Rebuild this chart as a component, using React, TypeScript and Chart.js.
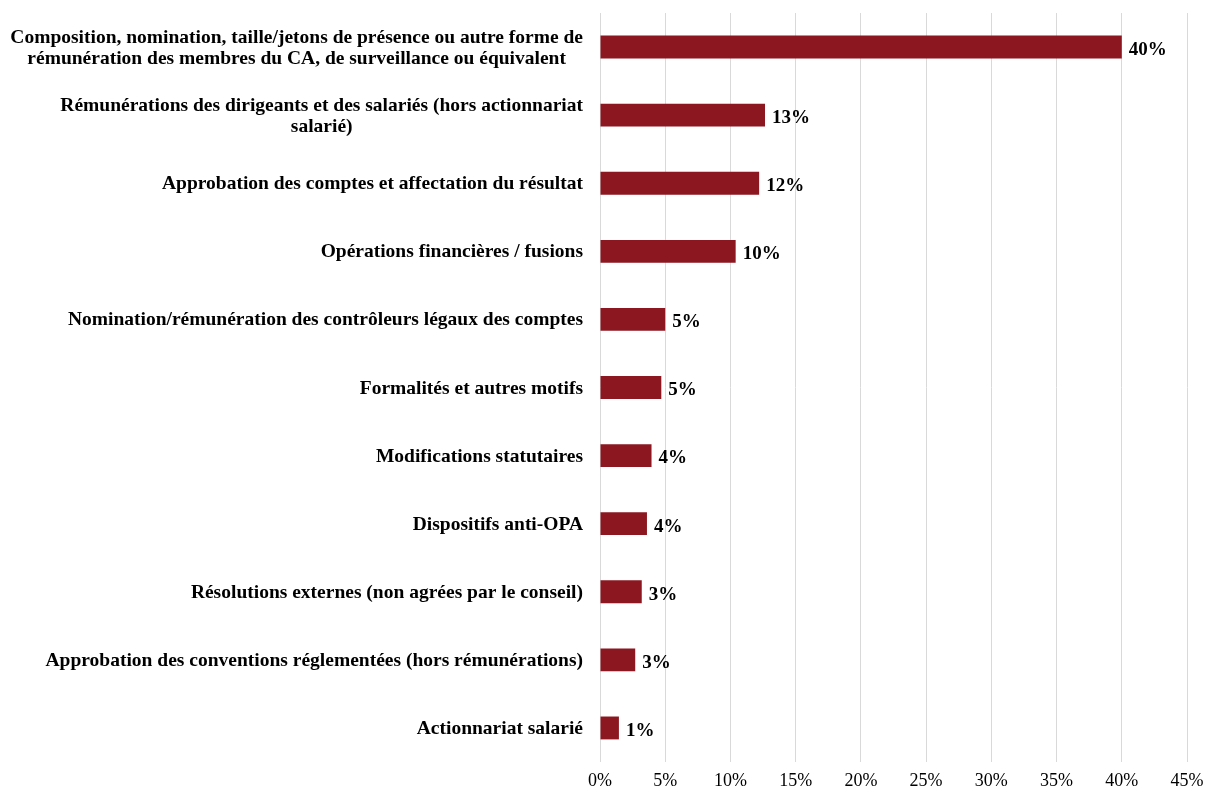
import React, { useEffect, useRef } from "react";
import { Chart, registerables } from "chart.js";

Chart.register(...registerables);

const categories: string[][] = [
  ["Composition, nomination, taille/jetons de présence ou autre forme de", "rémunération des membres du CA, de surveillance ou équivalent"],
  ["Rémunérations des dirigeants et des salariés (hors actionnariat", "salarié)"],
  ["Approbation des comptes et affectation du résultat"],
  ["Opérations financières / fusions"],
  ["Nomination/rémunération des contrôleurs légaux des comptes"],
  ["Formalités et autres motifs"],
  ["Modifications statutaires"],
  ["Dispositifs anti-OPA"],
  ["Résolutions externes (non agrées par le conseil)"],
  ["Approbation des conventions réglementées (hors rémunérations)"],
  ["Actionnariat salarié"],
];

const values: number[] = [40, 12.65, 12.2, 10.4, 5.0, 4.7, 3.95, 3.6, 3.2, 2.7, 1.45];
const valueLabels: string[] = ["40%", "13%", "12%", "10%", "5%", "5%", "4%", "4%", "3%", "3%", "1%"];
const xTicks: number[] = [0, 5, 10, 15, 20, 25, 30, 35, 40, 45];

const FONT = "'Liberation Serif', 'Times New Roman', serif";
const BAR_COLOR = "#8C1720";

const labelPlugin = {
  id: "customLabels",
  afterDraw(chart: any) {
    const ctx = chart.ctx;
    const yScale = chart.scales.y;
    const xScale = chart.scales.x;
    const area = chart.chartArea;
    ctx.save();
    ctx.font = `bold 19.5px ${FONT}`;
    ctx.fillStyle = "#000";
    ctx.textBaseline = "middle";
    ctx.textAlign = "center";
    const lh = 21;
    const rightEdge = area.left - 17;
    categories.forEach((lines, i) => {
      const cy = yScale.getPixelForValue(i) + 1;
      const maxW = Math.max(...lines.map((l) => ctx.measureText(l).width));
      const cx = rightEdge - maxW / 2;
      const startY = cy - ((lines.length - 1) * lh) / 2;
      lines.forEach((l, j) => ctx.fillText(l, cx, startY + j * lh));
    });
    ctx.font = `bold 19px ${FONT}`;
    ctx.textAlign = "left";
    values.forEach((v, i) => {
      const x = xScale.getPixelForValue(v) + 7;
      const y = yScale.getPixelForValue(i) + 3;
      ctx.fillText(valueLabels[i], x, y);
    });
    ctx.restore();
  },
};

export default function App() {
  const ref = useRef<HTMLCanvasElement | null>(null);
  useEffect(() => {
    if (!ref.current) return;
    const chart = new Chart(ref.current, {
      type: "bar",
      data: {
        labels: categories.map((c) => c.join(" ")),
        datasets: [
          {
            data: values,
            backgroundColor: BAR_COLOR,
            borderWidth: 0,
            barPercentage: 0.8,
            categoryPercentage: 0.42,
          },
        ],
      },
      options: {
        indexAxis: "y",
        animation: false,
        responsive: true,
        maintainAspectRatio: false,
        layout: { padding: { top: 13, right: 19, left: 0, bottom: 0 } },
        plugins: {
          legend: { display: false },
          tooltip: { enabled: false },
        },
        scales: {
          x: {
            min: 0,
            max: 45,
            afterBuildTicks: (scale: any) => {
              scale.ticks = xTicks.map((v) => ({ value: v }));
            },
            afterFit: (scale: any) => {
              scale.height = 30;
              scale.paddingRight = 0;
              scale.paddingLeft = 0;
            },
            grid: { color: "#d9d9d9", drawTicks: false, lineWidth: 1 },
            border: { display: false },
            ticks: {
              padding: 8,
              color: "#000",
              font: { family: FONT, size: 18 },
              callback: (v: any) => `${v}%`,
            },
          },
          y: {
            grid: { display: false },
            border: { display: false },
            ticks: { display: false },
            afterFit: (scale: any) => {
              scale.width = 600;
            },
          },
        },
      },
      plugins: [labelPlugin],
    });
    return () => chart.destroy();
  }, []);
  return (
    <div style={{ position: "fixed", left: 0, top: 0, width: 1206, height: 792, background: "#fff" }}>
      <canvas ref={ref} />
    </div>
  );
}
